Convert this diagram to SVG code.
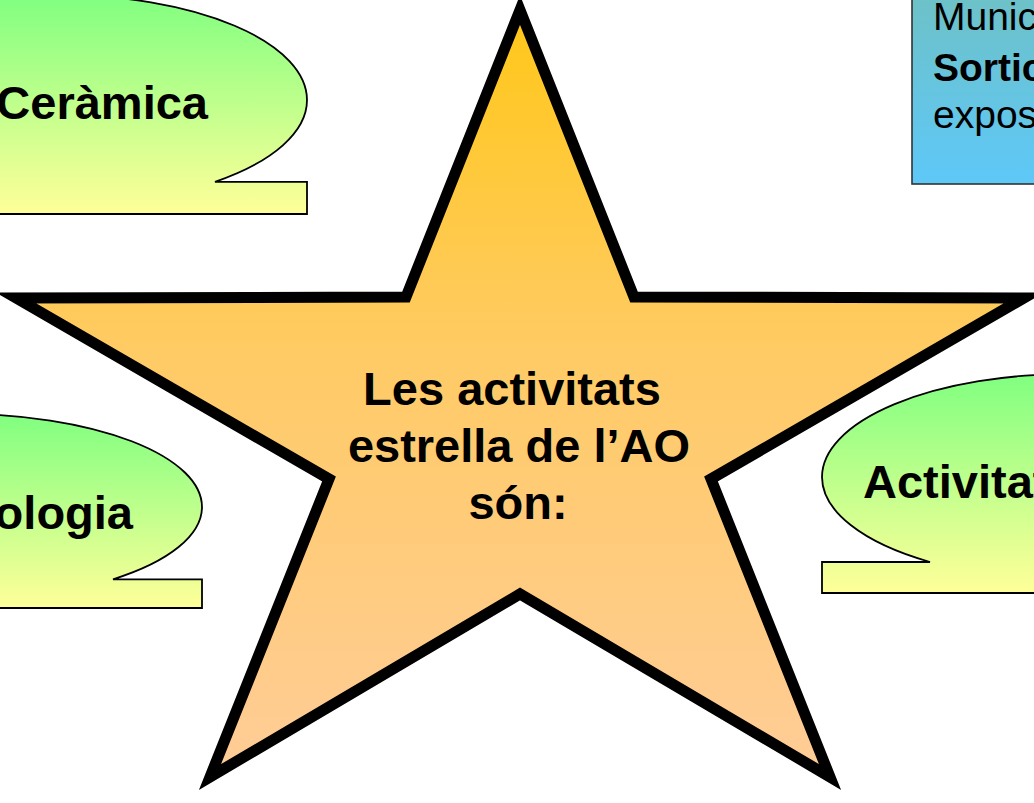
<svg xmlns="http://www.w3.org/2000/svg" width="1034" height="803" viewBox="0 0 1034 803">
<defs>
<linearGradient id="gStar" gradientUnits="userSpaceOnUse" x1="0" y1="10" x2="0" y2="790">
<stop offset="0" stop-color="#FFC718"/>
<stop offset="0.45" stop-color="#FFCB66"/>
<stop offset="1" stop-color="#FFCC99"/>
</linearGradient>
<linearGradient id="gCall" x1="0" y1="0" x2="0" y2="1">
<stop offset="0" stop-color="#80FF80"/>
<stop offset="1" stop-color="#FFFF99"/>
</linearGradient>
<linearGradient id="gBlue" x1="0" y1="0" x2="0" y2="1">
<stop offset="0" stop-color="#6EC1C6"/>
<stop offset="1" stop-color="#5EC8F8"/>
</linearGradient>
</defs>
<style>
.call{fill:url(#gCall);stroke:#000;stroke-width:1.8;stroke-linejoin:miter}
.t{font-family:"Liberation Sans",Arial,sans-serif;font-weight:bold;font-size:47px;fill:#000}
.b{font-family:"Liberation Sans",Arial,sans-serif;font-size:39px;fill:#000}
</style>
<rect width="1034" height="803" fill="#fff"/>
<g id="node-ceramica">
<path class="call" d="M -187,100 A 247,105 0 0 1 60,-5 A 247,105 0 0 1 307,100 A 247,105 0 0 1 215,181.8 L 307,181.8 L 307,214 L -187,214 Z"/>
<text class="t" x="208" y="119" text-anchor="end">Ceràmica</text>
</g>
<g id="node-ologia">
<path class="call" d="M -278,507 A 240,93 0 0 1 -38,414 A 240,93 0 0 1 202,507 A 240,93 0 0 1 113,579.3 L 202,579.3 L 202,608 L -278,608 Z"/>
<text class="t" x="133" y="529" text-anchor="end">ologia</text>
</g>
<g id="node-activitat">
<path class="call" d="M 1318,477 A 248,103 0 0 0 1070,374 A 248,103 0 0 0 822,477 A 248,103 0 0 0 930,562 L 822,562 L 822,593 L 1318,593 Z"/>
<text class="t" x="863" y="498">Activitat</text>
</g>
<g id="node-blue">
<rect x="912" y="-10" width="200" height="194" fill="url(#gBlue)" stroke="#333" stroke-width="1.6"/>
<text class="b" x="933" y="30">Munic</text>
<text class="b" x="933" y="81" font-weight="bold">Sortic</text>
<text class="b" x="933" y="128">expos</text>
</g>
<g id="node-star">
<polygon points="520,10 634,297 1024,298 711,479 830,777 520,594 210,777 329,479 16,298 406,297" fill="url(#gStar)" stroke="#000" stroke-width="11" stroke-linejoin="miter" stroke-miterlimit="10"/>
<text class="t" text-anchor="middle" x="512" y="405">Les activitats</text>
<text class="t" text-anchor="middle" x="519" y="462">estrella de l’AO</text>
<text class="t" text-anchor="middle" x="518" y="519">són:</text>
</g>
</svg>
